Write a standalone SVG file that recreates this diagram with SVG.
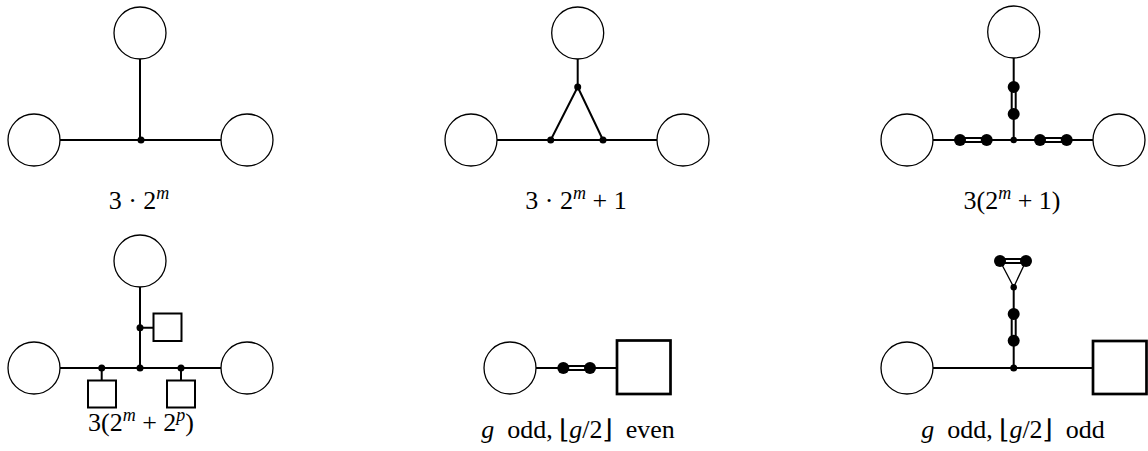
<svg xmlns="http://www.w3.org/2000/svg" width="1148" height="451" viewBox="0 0 1148 451">
<style>
.c{fill:#fff;stroke:#000;stroke-width:1.3}
.e{stroke:#000;stroke-width:2;fill:none}
.t{stroke:#000;stroke-width:1.3;fill:none}
.dbo{stroke:#000;stroke-width:6;fill:none}
.dbi{stroke:#fff;stroke-width:2;fill:none}
.d{fill:#000}
.s{fill:#fff;stroke:#000;stroke-width:2}
.S{fill:#fff;stroke:#000;stroke-width:2.7}
.lbl{font-family:'Liberation Serif','DejaVu Serif',serif;font-size:26px;fill:#000;text-anchor:middle}
.i{font-style:italic}
.sup{font-style:italic;font-size:18px}
</style>
<g id="connectors">
<path class="e" d="M60 140H221M140 59V140"/>
<path class="e" d="M497 140H657M577.7 59V87L550.7 140M577.7 87L603 140"/>
<path class="e" d="M933 140H1093M1013.7 58V140"/>
<path class="dbo" d="M960 140H986.7M1040 140H1066.7M1013.7 87V114"/>
<path class="dbi" d="M960 140H986.7M1040 140H1066.7M1013.7 87V114"/>
<path class="e" d="M60 368H221M140 287V368M140 327.7H153M101.7 368V380M181 368V380"/>
<path class="e" d="M536 368H616.7"/>
<path class="dbo" d="M563.3 368H590"/>
<path class="dbi" d="M563.3 368H590"/>
<path class="e" d="M933 368H1092.7M1013.7 287V368"/>
<path class="t" d="M1000 261L1013.7 287L1026 261"/>
<path class="dbo" d="M1013.7 314V340.7M1000 261H1026"/>
<path class="dbi" d="M1013.7 314V340.7M1000 261H1026"/>
</g>
<g id="p1">
<circle class="c" cx="140" cy="33" r="26"/>
<circle class="c" cx="34" cy="140" r="26"/>
<circle class="c" cx="247" cy="140" r="26"/>
<circle class="d" cx="141" cy="140" r="3.5"/>
<text class="lbl" x="139" y="209">3 · 2<tspan class="sup" dy="-10">m</tspan></text>
</g>
<g id="p2">
<circle class="c" cx="577.7" cy="33" r="26"/>
<circle class="c" cx="471" cy="140" r="26"/>
<circle class="c" cx="683" cy="140" r="26"/>
<circle class="d" cx="577.7" cy="87" r="3.5"/>
<circle class="d" cx="550.7" cy="140" r="3.5"/>
<circle class="d" cx="603" cy="140" r="3.5"/>
<text class="lbl" x="576" y="209">3 · 2<tspan class="sup" dy="-10">m</tspan><tspan dy="10"> + 1</tspan></text>
</g>
<g id="p3">
<circle class="c" cx="1013.7" cy="32" r="26"/>
<circle class="c" cx="907" cy="140" r="26"/>
<circle class="c" cx="1119" cy="140" r="26"/>
<circle class="d" cx="1013.7" cy="140" r="3.2"/>
<circle class="d" cx="1013.7" cy="87" r="6"/>
<circle class="d" cx="1013.7" cy="114" r="6"/>
<circle class="d" cx="960" cy="140" r="6"/>
<circle class="d" cx="986.7" cy="140" r="6"/>
<circle class="d" cx="1040" cy="140" r="6"/>
<circle class="d" cx="1066.7" cy="140" r="6"/>
<text class="lbl" x="1012" y="209">3(2<tspan class="sup" dy="-10">m</tspan><tspan dy="10"> + 1)</tspan></text>
</g>
<g id="p4">
<circle class="c" cx="140" cy="261" r="26"/>
<circle class="c" cx="34" cy="368" r="26"/>
<circle class="c" cx="247" cy="368" r="26"/>
<circle class="d" cx="140" cy="368" r="3.5"/>
<circle class="d" cx="140" cy="327.7" r="3.5"/>
<circle class="d" cx="101.7" cy="368" r="3.5"/>
<circle class="d" cx="181" cy="368" r="3.5"/>
<rect class="s" x="153.5" y="313.5" width="28" height="27.5"/>
<rect class="s" x="88" y="380.5" width="28" height="27"/>
<rect class="s" x="167" y="380.5" width="28" height="27"/>
<text class="lbl" x="141" y="431">3(2<tspan class="sup" dy="-10">m</tspan><tspan dy="10"> + 2</tspan><tspan class="sup" dy="-10">p</tspan><tspan dy="10">)</tspan></text>
</g>
<g id="p5">
<circle class="c" cx="510" cy="368" r="26"/>
<circle class="d" cx="563.3" cy="368" r="6"/>
<circle class="d" cx="590" cy="368" r="6"/>
<rect class="S" x="617" y="340.5" width="53.5" height="53.5"/>
<text class="lbl" x="578" y="438" xml:space="preserve"><tspan class="i">g</tspan>  odd, ⌊<tspan class="i">g</tspan>/2⌋  even</text>
</g>
<g id="p6">
<circle class="c" cx="907" cy="368" r="26"/>
<rect class="S" x="1093" y="341" width="53.5" height="53"/>
<circle class="d" cx="1013.7" cy="368" r="3.5"/>
<circle class="d" cx="1013.7" cy="287.3" r="3.2"/>
<circle class="d" cx="1013.7" cy="314" r="6"/>
<circle class="d" cx="1013.7" cy="340.7" r="6"/>
<circle class="d" cx="1000" cy="261" r="6"/>
<circle class="d" cx="1026" cy="261" r="6"/>
<text class="lbl" x="1013" y="438" xml:space="preserve"><tspan class="i">g</tspan>  odd, ⌊<tspan class="i">g</tspan>/2⌋  odd</text>
</g>
</svg>
